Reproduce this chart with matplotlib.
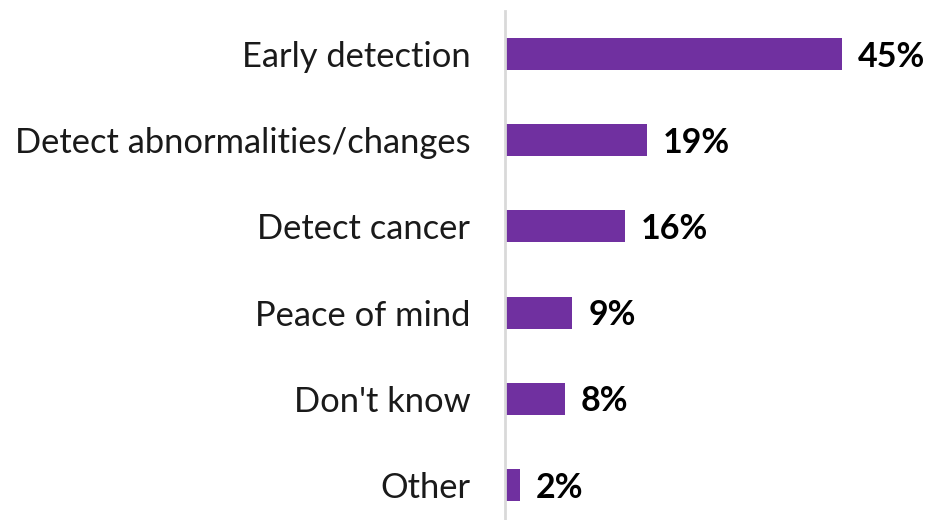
import matplotlib
matplotlib.use('Agg')
import matplotlib.pyplot as plt

categories = ['Early detection', 'Detect abnormalities/changes', 'Detect cancer',
              'Peace of mind', "Don't know", 'Other']
values = [45, 19, 16, 9, 8, 2]
value_labels = ['45%', '19%', '16%', '9%', '8%', '2%']

plt.rcParams['font.family'] = ['Lato', 'DejaVu Sans']

fig = plt.figure(figsize=(9.29, 5.2), dpi=100)
ax = fig.add_axes([505/929, 0, 374.5/929, 1 - 11/520])

ypos = list(range(len(categories)))
ax.barh(ypos, values, height=0.371, color='#7030A0', zorder=2)
ax.set_xlim(0, 50)
ax.set_ylim(5.406, -0.499)

for y, v, lab in zip(ypos, values, value_labels):
    ax.text(v + 2.1, y + 0.03, lab, va='center', ha='left', fontsize=24.5,
            fontweight='bold', color='black')

ax.set_yticks(ypos)
ax.set_yticklabels(categories, fontsize=24.8, color='#1a1a1a')
ax.tick_params(axis='y', length=0, pad=25)
ax.set_xticks([])
for s in ['top', 'right', 'bottom']:
    ax.spines[s].set_visible(False)
ax.spines['left'].set_color('#d9d9d9')
ax.spines['left'].set_linewidth(2)

plt.savefig('out.png', dpi=100)
